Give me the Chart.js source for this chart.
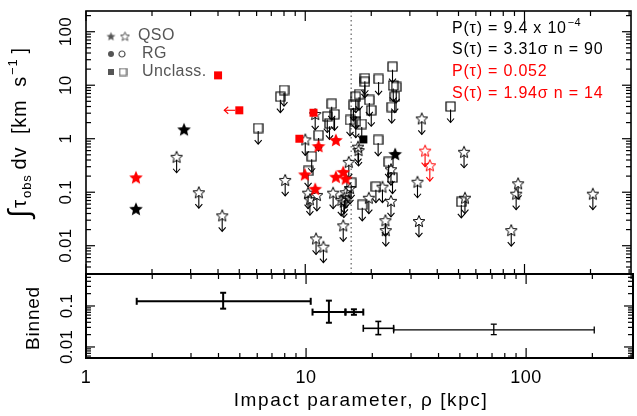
<!DOCTYPE html>
<html lang="en">
<head>
<meta charset="UTF-8">
<title>Integrated optical depth vs impact parameter</title>
<script src="https://cdn.jsdelivr.net/npm/chart.js@4"></script>
<style>
  html, body { margin: 0; padding: 0; background: #fff; }
  .wrap { position: relative; width: 637px; height: 416px; }
  .wrap canvas { position: absolute; left: 0; top: 0; }
</style>
</head>
<body>
<div class="wrap">
  <canvas id="topChart" width="637" height="416"></canvas>
  <canvas id="binChart" width="637" height="416"></canvas>
</div>
<script>
// ---- values ----
// QSO non-detections (open stars, upper limits)
const qsoLimRho = [2.59, 3.27, 4.18, 8.1, 10.0, 11.1, 10.3, 11.3, 10.5, 13.4, 15.8, 15.1, 15.0, 14.9, 11.2, 12.1, 34, 53, 32.5, 33,
                   53.5, 93.5, 91.6, 87, 205, 22.5, 24.6, 19.5, 23.2, 23.3, 17.5, 24.6, 17.4, 15.3, 14.6, 16.0];
const qsoLimTau = [0.46, 0.10, 0.037, 0.17, 0.97, 2.9, 0.098, 0.089, 0.074, 0.098, 0.37, 0.080, 0.067, 0.024, 0.0137, 0.0096, 2.4, 0.57, 0.157, 0.029,
                   0.079, 0.147, 0.094, 0.0196, 0.094, 0.127, 0.069, 0.079, 0.030, 0.0196, 0.615, 0.27, 0.71, 0.10, 0.072, 0.12];
// unclassified non-detections (open squares, upper limits)
const uncLimRho = [8.0, 7.7, 6.1, 13.2, 12.6, 13.6, 12.9, 11.5, 10.7, 10.3, 25.0, 25.2, 26.0, 25.6, 24.8, 21.6, 18.7, 18.7, 19.6, 20.0,
                   17.6, 17.0, 16.6, 17.0, 16.0, 17.0, 18.1, 21.5, 24.0, 25.0, 16.2, 21.0, 18.2, 51.5, 46.0];
const uncLimTau = [8.1, 6.1, 1.58, 4.5, 2.6, 2.86, 1.94, 1.17, 0.47, 0.25, 22.2, 9.9, 9.3, 6.1, 3.9, 13.1, 13.5, 11.6, 5.3, 3.4,
                   6.8, 6.1, 4.3, 3.0, 2.24, 2.08, 1.88, 0.95, 0.37, 0.187, 0.15, 0.127, 0.058, 0.066, 4.0];
// detections, black
const qsoDetRho = [2.8, 1.69, 25.7];
const qsoDetTau = [1.5, 0.049, 0.52];
const uncDetRho = [18.4];
const uncDetTau = [0.97];
// red sub-sample
const redQsoDetRho = [1.69, 11.5, 13.8, 9.96, 11.1, 13.8, 14.9, 15.3];
const redQsoDetTau = [0.19, 0.73, 0.95, 0.216, 0.116, 0.195, 0.24, 0.18];
const redQsoLimRho = [35.2, 37.0];
const redQsoLimTau = [0.60, 0.32];
const redUncDetRho = [4.0, 10.9, 9.4];
const redUncDetTau = [15.3, 3.06, 1.0];
const redUncRhoLimRho = [5.0];
const redUncRhoLimTau = [3.4];

const cutRho = 16.2;   // dotted line

// binned panel
const binRho   = [4.2, 12.7, 16.5, 21.3, 71.3];
const binRhoLo = [1.70, 10.7, 15.1, 18.2, 25];
const binRhoHi = [10.5, 15.1, 18.2, 25, 204];
const binTau   = [0.13, 0.071, 0.071, 0.0285, 0.026];
const binTauLo = [0.086, 0.039, 0.061, 0.020, 0.020];
const binTauHi = [0.21, 0.135, 0.083, 0.042, 0.036];

const xTickVals = [1, 10, 100];
const xTickLabels = ['1', '10', '100'];
const yTickVals = [0.01, 0.1, 1, 10, 100];
const yTickLabels = ['0.01', '0.1', '1', '10', '100'];
const binTickVals = [0.01, 0.1];
const binTickLabels = ['0.01', '0.1'];

const FONT = "'Liberation Sans', Arial, sans-serif";
const RED = '#ff0000';

// ---- marker images ----
function makeMarker(shape, size, fill, stroke, lw) {
    const c = document.createElement('canvas');
    c.width = c.height = size;
    const g = c.getContext('2d');
    const m = size / 2;
    g.beginPath();
    if (shape === 'star') {
        const ro = m - 0.8, ri = ro * 0.45;
        for (let i = 0; i < 10; i++) {
            const r = i % 2 ? ri : ro;
            const a = -Math.PI / 2 + i * Math.PI / 5;
            g.lineTo(m + r * Math.cos(a), m + 0.7 + r * Math.sin(a));
        }
        g.closePath();
    } else if (shape === 'circle') {
        g.arc(m, m, m - 1, 0, Math.PI * 2);
    } else {
        g.rect(1, 1, size - 2, size - 2);
    }
    if (fill) { g.fillStyle = fill; g.fill(); }
    if (stroke) { g.strokeStyle = stroke; g.lineWidth = lw; g.stroke(); }
    return c;
}

const starOpen = makeMarker('star', 14, null, '#000', 1);
const starFill = makeMarker('star', 16, '#000', null);
const starRed = makeMarker('star', 16, RED, null);
const starRedOpen = makeMarker('star', 14, null, RED, 1);
const sqOpen = makeMarker('square', 11, null, '#000', 1.2);
const sqFill = makeMarker('square', 10, '#000', null);
const sqRed = makeMarker('square', 10, RED, null);

function pts(xs, ys) { return xs.map((x, i) => ({ x: x, y: ys[i] })); }

function markerSet(xs, ys, img, order, arrow, arrowColor) {
    return {
        data: pts(xs, ys), pointStyle: img, pointRadius: 5, pointHoverRadius: 5,
        order: order, arrow: arrow, arrowColor: arrowColor || '#000'
    };
}

// ---- drawing helpers ----
function line(ctx, x1, y1, x2, y2) {
    ctx.beginPath(); ctx.moveTo(x1, y1); ctx.lineTo(x2, y2); ctx.stroke();
}

function logTickValues(min, max) {
    const out = [];
    for (let e = Math.floor(Math.log10(min)); e <= Math.ceil(Math.log10(max)); e++) {
        for (let k = 1; k <= 9; k++) {
            const v = k * Math.pow(10, e);
            if (v >= min * 0.999 && v <= max * 1.001) out.push({ v: v, major: k === 1 });
        }
    }
    return out;
}

function txt(ctx, s, x, y, size, color, align, spacing) {
    ctx.font = size + 'px ' + FONT;
    ctx.fillStyle = color;
    ctx.textAlign = align || 'left';
    ctx.letterSpacing = (spacing || 0) + 'px';
    ctx.fillText(s, x, y);
}

function vtxt(ctx, s, x, y, size, color, spacing) {
    ctx.save();
    ctx.translate(x, y);
    ctx.rotate(-Math.PI / 2);
    txt(ctx, s, 0, 0, size, color, 'center', spacing);
    ctx.restore();
}

// frame with inward ticks on all four sides
const framePlugin = {
    id: 'frame',
    afterDraw(chart, args, opts) {
        const { ctx, chartArea: a, scales } = chart;
        ctx.save();
        ctx.strokeStyle = '#000';
        ctx.lineWidth = 1.2;
        logTickValues(scales.x.min, scales.x.max).forEach(t => {
            const px = scales.x.getPixelForValue(t.v);
            const len = t.major ? 10 : 5;
            line(ctx, px, a.top, px, a.top + len);
            line(ctx, px, a.bottom, px, a.bottom - len);
        });
        logTickValues(scales.y.min, scales.y.max).forEach(t => {
            const py = scales.y.getPixelForValue(t.v);
            const len = t.major ? 9 : 5;
            line(ctx, a.left, py, a.left + len, py);
            line(ctx, a.right, py, a.right - len, py);
        });
        ctx.lineWidth = opts.width || 1.6;
        ctx.strokeRect(a.left, a.top, a.right - a.left, a.bottom - a.top);
        ctx.restore();
    }
};

// upper-limit arrows
const arrowPlugin = {
    id: 'limitArrows',
    beforeDatasetsDraw(chart) {
        const ctx = chart.ctx;
        chart.data.datasets.forEach((ds, i) => {
            if (!ds.arrow) return;
            ctx.save();
            ctx.strokeStyle = ds.arrowColor;
            ctx.lineWidth = 1.1;
            chart.getDatasetMeta(i).data.forEach(p => {
                if (ds.arrow === 'down') {
                    line(ctx, p.x, p.y + 3, p.x, p.y + 16);
                    ctx.beginPath();
                    ctx.moveTo(p.x - 3.5, p.y + 12);
                    ctx.lineTo(p.x, p.y + 16);
                    ctx.lineTo(p.x + 3.5, p.y + 12);
                    ctx.stroke();
                } else {
                    line(ctx, p.x - 4, p.y, p.x - 15, p.y);
                    ctx.beginPath();
                    ctx.moveTo(p.x - 11, p.y - 3.5);
                    ctx.lineTo(p.x - 15, p.y);
                    ctx.lineTo(p.x - 11, p.y + 3.5);
                    ctx.stroke();
                }
            });
            ctx.restore();
        });
    }
};

// dotted cut, legend, statistics, axis labels of the upper panel
const topTextPlugin = {
    id: 'topText',
    beforeDatasetsDraw(chart) {
        const { ctx, chartArea: a, scales } = chart;
        const px = scales.x.getPixelForValue(cutRho);
        ctx.save();
        ctx.strokeStyle = '#777';
        ctx.lineWidth = 1.4;
        ctx.setLineDash([1.5, 3]);
        line(ctx, px, a.top, px, a.bottom);
        ctx.restore();
    },
    afterDraw(chart) {
        const { ctx, scales } = chart;
        ctx.save();
        ctx.textBaseline = 'middle';

        // legend
        const grey = '#555';
        const lg = [
            [makeMarker('star', 11, grey, null), makeMarker('star', 11, null, grey, 1), 'QSO', 36, 138, 125],
            [makeMarker('circle', 8, grey, null), makeMarker('circle', 8, null, grey, 1.2), 'RG', 54, 142, 122],
            [makeMarker('square', 8, grey, null), makeMarker('square', 9, null, grey, 1.2), 'Unclass.', 72, 142, 123]
        ];
        lg.forEach(r => {
            ctx.drawImage(r[0], 111 - r[0].width / 2, r[3] - r[0].height / 2);
            ctx.drawImage(r[1], r[5] - r[1].width / 2, r[3] - r[1].height / 2);
            txt(ctx, r[2], r[4], r[3], 16, grey, 'left', 0.4);
        });

        // statistics
        txt(ctx, 'P(\u03c4) = 9.4 x 10', 452, 29, 16, '#000', 'left', 0.8);
        const w = ctx.measureText('P(\u03c4) = 9.4 x 10').width;
        txt(ctx, '\u22124', 452 + w + 1, 23, 11, '#000', 'left', 0.3);
        txt(ctx, 'S(\u03c4) = 3.31\u03c3 n = 90', 452, 50, 16, '#000', 'left', 0.8);
        txt(ctx, 'P(\u03c4) = 0.052', 452, 72, 16, RED, 'left', 0.8);
        txt(ctx, 'S(\u03c4) = 1.94\u03c3 n = 14', 452, 94, 16, RED, 'left', 0.8);

        // y tick labels
        ctx.textBaseline = 'alphabetic';
        yTickVals.forEach((v, i) => {
            vtxt(ctx, yTickLabels[i], 71, scales.y.getPixelForValue(v), 17, '#000', 0.3);
        });

        // y title
        const segs = [
            ['\u222b', 30, 3, 1],
            ['\u03c4', 21, 0, 1],
            ['obs', 13, 5, 5],
            ['dv  [km  s', 20, 0, 1],
            ['\u22121', 13, -9, 5],
            [']', 20, 0, 0]
        ];
        let pos = 218;
        segs.forEach(s => {
            ctx.save();
            ctx.translate(26, pos);
            ctx.rotate(-Math.PI / 2);
            txt(ctx, s[0], 0, s[2], s[1], '#000', 'left', 0.8);
            const sw = ctx.measureText(s[0]).width;
            ctx.restore();
            pos -= sw + s[3];
        });
        ctx.restore();
    }
};

// error bars and axis labels of the lower panel
const binPlugin = {
    id: 'binBars',
    afterDatasetsDraw(chart) {
        const { ctx, scales } = chart;
        const ds = chart.data.datasets[0];
        ctx.save();
        ctx.strokeStyle = '#000';
        ds.data.forEach((p, i) => {
            ctx.lineWidth = ds.widths[i];
            const x = scales.x.getPixelForValue(p.x);
            const y = scales.y.getPixelForValue(p.y);
            const x0 = scales.x.getPixelForValue(ds.xLo[i]);
            const x1 = scales.x.getPixelForValue(ds.xHi[i]);
            const y0 = scales.y.getPixelForValue(ds.yLo[i]);
            const y1 = scales.y.getPixelForValue(ds.yHi[i]);
            line(ctx, x0, y, x1, y);
            line(ctx, x0, y - 3.5, x0, y + 3.5);
            line(ctx, x1, y - 3.5, x1, y + 3.5);
            line(ctx, x, y0, x, y1);
            line(ctx, x - 3, y0, x + 3, y0);
            line(ctx, x - 3, y1, x + 3, y1);
        });
        ctx.restore();
    },
    afterDraw(chart) {
        const { ctx, scales } = chart;
        ctx.save();
        ctx.textBaseline = 'alphabetic';
        binTickVals.forEach((v, i) => {
            vtxt(ctx, binTickLabels[i], 72, scales.y.getPixelForValue(v), 17, '#000', 0.3);
        });
        vtxt(ctx, 'Binned', 39, 318, 19, '#000', 0.8);
        ctx.textBaseline = 'middle';
        xTickVals.forEach((v, i) => {
            txt(ctx, xTickLabels[i], scales.x.getPixelForValue(v), 378, 18, '#000', 'center', 0.5);
        });
        txt(ctx, 'Impact parameter, \u03c1 [kpc]', 361, 401, 19, '#000', 'center', 1.6);
        ctx.restore();
    }
};

const common = {
    responsive: false,
    animation: false,
    plugins: { legend: { display: false }, tooltip: { enabled: false } }
};

new Chart(document.getElementById('topChart'), {
    type: 'scatter',
    data: {
        datasets: [
            markerSet(redUncRhoLimRho, redUncRhoLimTau, sqRed, 0, 'left', RED),
            markerSet(redUncDetRho, redUncDetTau, sqRed, 0),
            markerSet(redQsoDetRho, redQsoDetTau, starRed, 0),
            markerSet(redQsoLimRho, redQsoLimTau, starRedOpen, 0, 'down', RED),
            markerSet(qsoDetRho, qsoDetTau, starFill, 1),
            markerSet(uncDetRho, uncDetTau, sqFill, 1),
            markerSet(qsoLimRho, qsoLimTau, starOpen, 2, 'down'),
            markerSet(uncLimRho, uncLimTau, sqOpen, 2, 'down')
        ]
    },
    options: Object.assign({}, common, {
        layout: { padding: { left: 86, right: 4, top: 11, bottom: 142 } },
        scales: {
            x: { type: 'logarithmic', min: 1, max: 306, display: false },
            y: { type: 'logarithmic', min: 0.00296, max: 244, display: false }
        },
        plugins: Object.assign({}, common.plugins, { frame: { width: 1.6 } })
    }),
    plugins: [topTextPlugin, arrowPlugin, framePlugin]
});

new Chart(document.getElementById('binChart'), {
    type: 'scatter',
    data: {
        datasets: [{
            data: pts(binRho, binTau),
            xLo: binRhoLo, xHi: binRhoHi, yLo: binTauLo, yHi: binTauHi,
            widths: [2, 2, 2, 1.6, 1.3],
            pointRadius: 0
        }]
    },
    options: Object.assign({}, common, {
        layout: { padding: { left: 86, right: 4, top: 274, bottom: 58 } },
        scales: {
            x: { type: 'logarithmic', min: 1, max: 306, display: false },
            y: { type: 'logarithmic', min: 0.00538, max: 0.603, display: false }
        },
        plugins: Object.assign({}, common.plugins, { frame: { width: 2 } })
    }),
    plugins: [binPlugin, framePlugin]
});
</script>
</body>
</html>
